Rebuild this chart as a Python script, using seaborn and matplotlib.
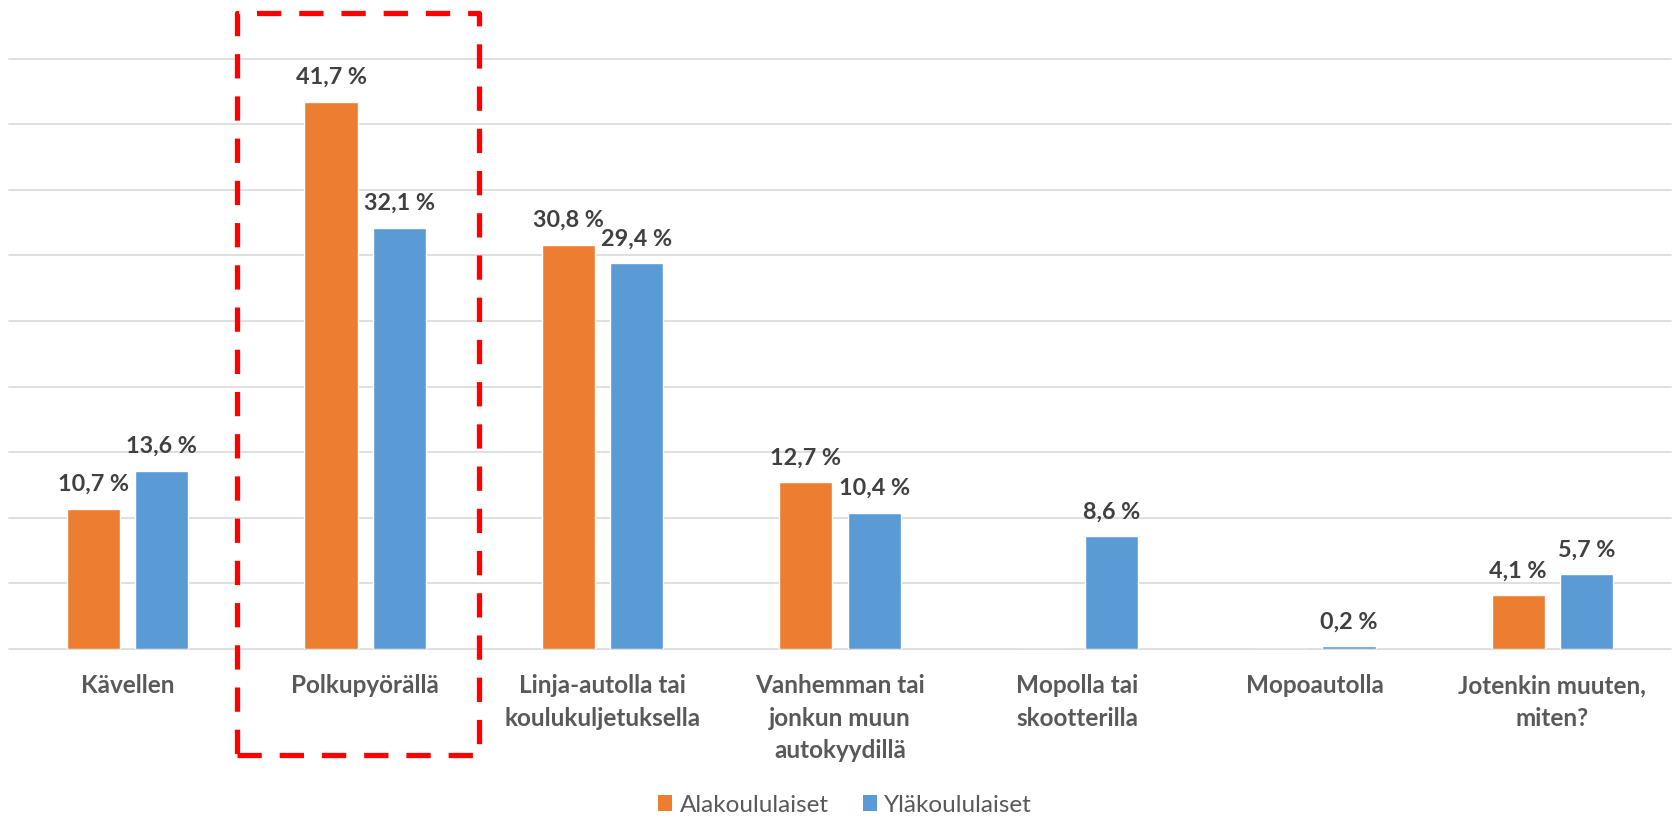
import matplotlib
matplotlib.use("Agg")
import matplotlib.pyplot as plt
from matplotlib.patches import Patch, Rectangle
import seaborn as sns
import pandas as pd

# ---- data ----
categories = [
    "Kävellen",
    "Polkupyörällä",
    "Linja-autolla tai\nkoulukuljetuksella",
    "Vanhemman tai\njonkun muun\nautokyydillä",
    "Mopolla tai\nskootterilla",
    "Mopoautolla",
    "Jotenkin muuten,\nmiten?",
]
groups = ["Alakoululaiset", "Yläkoululaiset"]
alakoulu = [10.7, 41.7, 30.8, 12.7, 0.0, 0.0, 4.1]
ylakoulu = [13.6, 32.1, 29.4, 10.4, 8.6, 0.2, 5.7]
colors = ["#ED7D31", "#5B9BD5"]
highlight_category = "Polkupyörällä"

df = pd.DataFrame({
    "kategoria": categories * 2,
    "ryhmä": [groups[0]] * len(categories) + [groups[1]] * len(categories),
    "arvo": alakoulu + ylakoulu,
})

sns.set_theme(style="white")
plt.rcParams["font.family"] = ["Lato", "DejaVu Sans"]

W, H = 1673, 818
fig = plt.figure(figsize=(W / 100, H / 100), dpi=100)
ax_left, ax_right = 9 / W, 1671 / W
ax_bottom, ax_top = 1 - 649 / H, 1 - 58.7 / H
ax = fig.add_axes([ax_left, ax_bottom, ax_right - ax_left, ax_top - ax_bottom])

sns.barplot(data=df, x="kategoria", y="arvo", hue="ryhmä", hue_order=groups,
            order=categories, palette=colors, saturation=1, width=0.575,
            gap=0.22, errorbar=None, legend=False, ax=ax)

ax.set_xlim(-0.5, len(categories) - 0.5)
ax.set_ylim(0, 45)
ax.set_yticks(range(0, 46, 5))
ax.set_yticklabels([])
ax.yaxis.grid(True, color="#D9D9D9", linewidth=1.2)
for gl in ax.get_ygridlines():
    gl.set_clip_on(False)
ax.set_axisbelow(True)
for s in ax.spines.values():
    s.set_visible(False)
ax.set_xlabel("")
ax.set_ylabel("")
ax.tick_params(axis="x", length=0, pad=18)
ax.tick_params(axis="y", length=0)
for lab in ax.get_xticklabels():
    lab.set_fontsize(17.5)
    lab.set_fontweight("bold")
    lab.set_color("#595959")
    lab.set_linespacing(1.5)

def fmt(v):
    return "" if v == 0 else f"{v:.1f}".replace(".", ",") + " %"

for cont, vals in zip(ax.containers, [alakoulu, ylakoulu]):
    ax.bar_label(cont, labels=[fmt(v) for v in vals], padding=10,
                 fontsize=16.8, fontweight="bold", color="#404040")

# highlight box around one category
ci = categories.index(highlight_category)
box = Rectangle((ci - 0.539, -8.1), 1.02, 56.6, fill=False, edgecolor="#FF0000",
                linewidth=3.8, linestyle=(0, (4.6, 3.4)), joinstyle="round",
                capstyle="butt", clip_on=False, zorder=5)
ax.add_patch(box)

handles = [Patch(facecolor=c, edgecolor="none", label=g) for c, g in zip(colors, groups)]
fig.legend(handles=handles, loc="center", bbox_to_anchor=(0.505, 1 - 805 / H),
           ncol=2, frameon=False, fontsize=17.5, handlelength=0.6, handleheight=0.6,
           handletextpad=0.3, columnspacing=1.4, labelcolor="#595959")

fig.savefig("out.png", dpi=100)
